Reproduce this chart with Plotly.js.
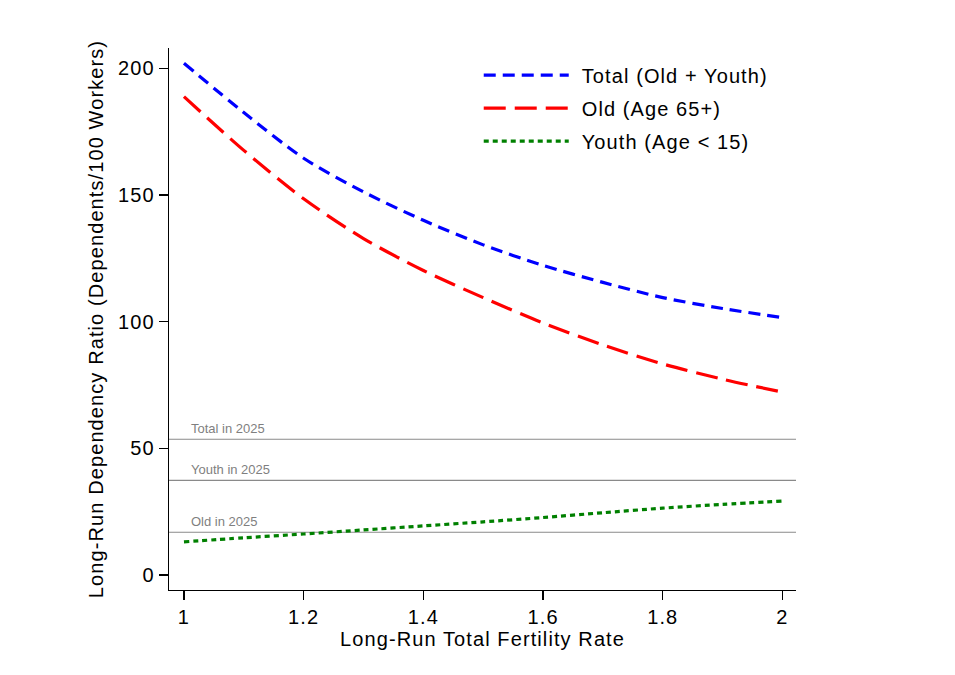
<!DOCTYPE html>
<html>
<head>
<meta charset="utf-8">
<script src="https://cdn.plot.ly/plotly-3.0.1.min.js"></script>
<style>html,body{margin:0;padding:0;background:#fff;}#chart{width:955px;height:675px;}</style>
</head>
<body>
<div id="chart"></div>
<script>
const fertility = [1.0, 1.1, 1.2, 1.3, 1.4, 1.5, 1.6, 1.7, 1.8, 1.9, 2.0];
const totalRatio = [202.0, 182.5, 164.5, 151.2, 140.0, 130.3, 122.2, 115.5, 109.5, 105.2, 101.6];
const oldRatio = [188.8, 167.6, 148.5, 132.8, 120.2, 109.5, 99.5, 90.8, 83.3, 77.3, 72.2];
const youthRatio = [13.1, 14.7, 16.2, 17.8, 19.4, 21.0, 22.7, 24.6, 26.4, 27.9, 29.2];

const refLabels = ["Total in 2025", "Youth in 2025", "Old in 2025"];
const refValues = [53.6, 37.4, 16.9];

const seriesNames = ["Total (Old + Youth)", "Old (Age 65+)", "Youth (Age < 15)"];
const xTicks = [1, 1.2, 1.4, 1.6, 1.8, 2];
const yTicks = [0, 50, 100, 150, 200];

const font = "Liberation Sans, Arial, Helvetica, sans-serif";

const traces = [
  {x: fertility, y: totalRatio, name: seriesNames[0], legendgroup: "a", mode: "lines",
   line: {color: "#0000ff", width: 3.2, dash: "12px,7px", shape: "spline", smoothing: 0.8}},
  {x: fertility, y: oldRatio, name: seriesNames[1], legendgroup: "b", mode: "lines",
   line: {color: "#ff0000", width: 3.2, dash: "22px,9px", shape: "spline", smoothing: 0.8}},
  {x: fertility, y: youthRatio, name: seriesNames[2], legendgroup: "c", mode: "lines",
   line: {color: "#008000", width: 3.2, dash: "5px,4px", shape: "spline", smoothing: 0.8}}
];

const shapes = refValues.map(v => ({
  type: "line", xref: "paper", x0: 0, x1: 1, yref: "y", y0: v, y1: v,
  line: {color: "#8a8a8a", width: 1.2}, layer: "below"
}));
const annotations = refValues.map((v, i) => ({
  xref: "x", yref: "y", x: 1.008, y: v, text: refLabels[i],
  xanchor: "left", yanchor: "bottom", yshift: 1, showarrow: false,
  font: {family: font, size: 13, color: "#7f7f7f"}
}));

const layout = {
  width: 955, height: 675,
  margin: {l: 169, r: 159, t: 48, b: 85},
  paper_bgcolor: "#fff", plot_bgcolor: "#fff",
  font: {family: font, size: 20, color: "#000"},
  showlegend: true,
  legend: {x: 0.494, y: 0.986, xanchor: "left", yanchor: "top",
           bgcolor: "rgba(0,0,0,0)", borderwidth: 0, itemwidth: 93,
           tracegroupgap: 4, font: {family: font, size: 20, color: "#000"}},
  xaxis: {range: [0.975, 2.0226], tickvals: xTicks, ticktext: xTicks.map(String),
          showgrid: false, zeroline: false, showline: true, linecolor: "#000", linewidth: 1.3,
          ticks: "outside", ticklen: 9, tickwidth: 1.3, tickcolor: "#000",
          title: {text: "Long-Run Total Fertility Rate", standoff: 3, font: {family: font, size: 20}}},
  yaxis: {range: [-5.9, 208], tickvals: yTicks, ticktext: yTicks.map(String),
          showgrid: false, zeroline: false, showline: true, linecolor: "#000", linewidth: 1.3,
          ticks: "outside", ticklen: 9, tickwidth: 1.3, tickcolor: "#000",
          title: {text: "Long-Run Dependency Ratio (Dependents/100 Workers)", standoff: 12, font: {family: font, size: 20}}},
  shapes: shapes,
  annotations: annotations
};

Plotly.newPlot("chart", traces, layout, {displayModeBar: false, staticPlot: true}).then(gd => {
  gd.querySelectorAll(".xtick text, .ytick text, .g-xtitle text, .g-ytitle text, .legendtext")
    .forEach(el => { el.style.letterSpacing = "1.1px"; });
  gd.querySelectorAll(".legend [clip-path]").forEach(el => el.removeAttribute("clip-path"));
  gd.querySelectorAll(".legend .legendlines path").forEach(el => {
    const d = el.getAttribute("d");
    if (d) el.setAttribute("d", d.replace(/h([0-9.]+)/, (m, n) => "h" + Math.max(10, parseFloat(n) - 8)));
  });
});
</script>
</body>
</html>
